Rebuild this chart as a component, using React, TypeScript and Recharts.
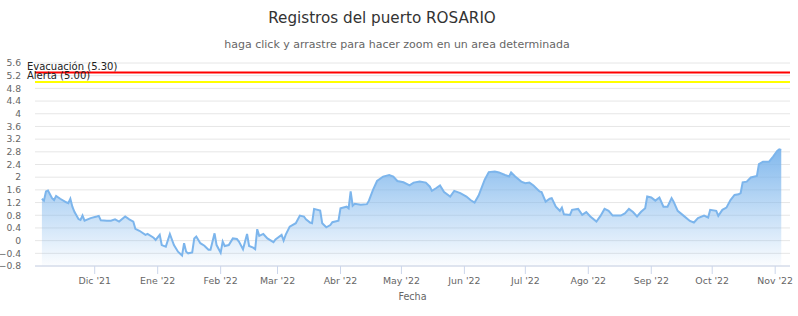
import React from 'react';
import { ComposedChart, Area, XAxis, YAxis, CartesianGrid, ReferenceLine } from 'recharts';

const FONT = '"DejaVu Sans", Verdana, sans-serif';
const DAY = 24 * 3600 * 1000;

const fechas = [
  '2021-11-05', '2021-11-06', '2021-11-07', '2021-11-08', '2021-11-10', '2021-11-11', '2021-11-12', '2021-11-14',
  '2021-11-17', '2021-11-18', '2021-11-19', '2021-11-20', '2021-11-21', '2021-11-23', '2021-11-24', '2021-11-25',
  '2021-11-26', '2021-11-29',
  '2021-12-02', '2021-12-03', '2021-12-04', '2021-12-07', '2021-12-09', '2021-12-11', '2021-12-13', '2021-12-16',
  '2021-12-18', '2021-12-20', '2021-12-21', '2021-12-23', '2021-12-26', '2021-12-27', '2021-12-30', '2021-12-31',
  '2022-01-02', '2022-01-03', '2022-01-05', '2022-01-07', '2022-01-09', '2022-01-11', '2022-01-13', '2022-01-14',
  '2022-01-15', '2022-01-16', '2022-01-18', '2022-01-19', '2022-01-20', '2022-01-22', '2022-01-24', '2022-01-26',
  '2022-01-27', '2022-01-29', '2022-01-30',
  '2022-02-01', '2022-02-02', '2022-02-03', '2022-02-05', '2022-02-07', '2022-02-09', '2022-02-10', '2022-02-12',
  '2022-02-14', '2022-02-15', '2022-02-17', '2022-02-18', '2022-02-19', '2022-02-20', '2022-02-22', '2022-02-24',
  '2022-02-27', '2022-02-28',
  '2022-03-03', '2022-03-04', '2022-03-05', '2022-03-07', '2022-03-10', '2022-03-12', '2022-03-14', '2022-03-15',
  '2022-03-17', '2022-03-18', '2022-03-19', '2022-03-22', '2022-03-23', '2022-03-25', '2022-03-27', '2022-03-28',
  '2022-03-31',
  '2022-04-01', '2022-04-04', '2022-04-05', '2022-04-06', '2022-04-07', '2022-04-08', '2022-04-11', '2022-04-14',
  '2022-04-15', '2022-04-17', '2022-04-19', '2022-04-22', '2022-04-25', '2022-04-27', '2022-04-29',
  '2022-05-02', '2022-05-05', '2022-05-07', '2022-05-10', '2022-05-13', '2022-05-15', '2022-05-16', '2022-05-18',
  '2022-05-20', '2022-05-22', '2022-05-25', '2022-05-27', '2022-05-30',
  '2022-06-02', '2022-06-04', '2022-06-06', '2022-06-08', '2022-06-11', '2022-06-13', '2022-06-16', '2022-06-18',
  '2022-06-21', '2022-06-23', '2022-06-24', '2022-06-26', '2022-06-29',
  '2022-07-01', '2022-07-03', '2022-07-05', '2022-07-08', '2022-07-09', '2022-07-11', '2022-07-13', '2022-07-14',
  '2022-07-16', '2022-07-18', '2022-07-19', '2022-07-20', '2022-07-23', '2022-07-24', '2022-07-27', '2022-07-29',
  '2022-07-31',
  '2022-08-02', '2022-08-05', '2022-08-07', '2022-08-09', '2022-08-11', '2022-08-13', '2022-08-17', '2022-08-19',
  '2022-08-21', '2022-08-23', '2022-08-25', '2022-08-27', '2022-08-29', '2022-08-30',
  '2022-09-01', '2022-09-03', '2022-09-05', '2022-09-07', '2022-09-09', '2022-09-11', '2022-09-12', '2022-09-14',
  '2022-09-17', '2022-09-20', '2022-09-22', '2022-09-24', '2022-09-27', '2022-09-29', '2022-09-30',
  '2022-10-03', '2022-10-04', '2022-10-06', '2022-10-08', '2022-10-10', '2022-10-12', '2022-10-14', '2022-10-15',
  '2022-10-16', '2022-10-18', '2022-10-20', '2022-10-23', '2022-10-24', '2022-10-26', '2022-10-29', '2022-10-31',
  '2022-11-02', '2022-11-03', '2022-11-04',
];

const alturas = [
  1.32, 1.26, 1.55, 1.58, 1.34, 1.28, 1.41, 1.32, 1.21, 1.18, 1.32, 1.07, 0.91, 0.68, 0.65, 0.79, 0.63, 0.71,
  0.76, 0.78, 0.64, 0.63, 0.63, 0.67, 0.6, 0.76, 0.67, 0.6, 0.37, 0.31, 0.18, 0.21, 0.09, 0.02,
  0.18, -0.14, -0.19, 0.21, -0.14, -0.35, -0.47, -0.08, -0.35, -0.4, -0.37, 0.07, 0.13, -0.08, -0.16, -0.29,
  -0.29, 0.23, -0.14,
  -0.38, -0.03, -0.17, -0.14, 0.07, 0.05, -0.03, -0.27, 0.21, -0.17, -0.22, -0.27, 0.36, 0.15, 0.21, 0.07,
  -0.05, 0.04,
  0.18, 0.0, 0.18, 0.44, 0.55, 0.79, 0.76, 0.67, 0.57, 0.55, 1.0, 0.95, 0.55, 0.42, 0.49, 0.58, 0.63,
  1.02, 1.07, 1.02, 1.55, 1.1, 1.16, 1.13, 1.15, 1.26, 1.6, 1.88, 2.02, 2.07, 2.02, 1.88,
  1.84, 1.74, 1.83, 1.86, 1.83, 1.7, 1.57, 1.65, 1.74, 1.53, 1.39, 1.57, 1.5,
  1.39, 1.28, 1.2, 1.42, 1.92, 2.16, 2.18, 2.15, 2.07, 2.02, 2.15, 2.02, 1.86,
  1.81, 1.83, 1.74, 1.55, 1.53, 1.23, 1.32, 1.34, 1.07, 0.94, 1.04, 0.83, 0.81, 0.97, 1.0, 0.81, 0.9,
  0.76, 0.6, 0.78, 1.0, 0.94, 0.79, 0.79, 0.86, 1.0, 0.9, 0.76, 0.91, 1.02, 1.39,
  1.36, 1.26, 1.36, 1.07, 1.07, 1.34, 1.23, 0.94, 0.78, 0.62, 0.57, 0.71, 0.79, 0.73, 0.97,
  0.94, 0.78, 0.97, 1.04, 1.28, 1.44, 1.46, 1.5, 1.84, 1.86, 1.99, 2.04, 2.41, 2.49, 2.49, 2.65,
  2.83, 2.88, 2.86,
];

const meses = [
  '2021-12-01', '2022-01-01', '2022-02-01', '2022-03-01', '2022-04-01', '2022-05-01',
  '2022-06-01', '2022-07-01', '2022-08-01', '2022-09-01', '2022-10-01', '2022-11-01',
];
const etiquetasMes = [
  "Dic '21", "Ene '22", "Feb '22", "Mar '22", "Abr '22", "May '22",
  "Jun '22", "Jul '22", "Ago '22", "Sep '22", "Oct '22", "Nov '22",
];

const yTicks = [-0.8, -0.4, 0, 0.4, 0.8, 1.2, 1.6, 2, 2.4, 2.8, 3.2, 3.6, 4, 4.4, 4.8, 5.2, 5.6];

const niveles = [
  { nombre: 'Evacuación', valor: 5.3, color: '#ff0000' },
  { nombre: 'Alerta', valor: 5.0, color: '#ffff00' },
];

const data = fechas.map((f, i) => ({ t: new Date(f).getTime(), v: alturas[i] }));
const tickTimes = meses.map((m) => new Date(m).getTime());
const labelFor: Record<number, string> = {};
tickTimes.forEach((t, i) => (labelFor[t] = etiquetasMes[i]));

const xMin = data[0].t - 3.4 * DAY;
const xMax = data[data.length - 1].t + 4.3 * DAY;

const fmtY = (v: number) => String(Math.round(v * 10) / 10).replace('-', '\u2212');

export default function App() {
  return (
    <div style={{ position: 'absolute', left: 0, top: 0, width: 798, height: 316, background: '#fff', fontFamily: FONT }}>
      <ComposedChart
        width={798}
        height={316}
        data={data}
        margin={{ top: 63, right: 8, bottom: 20, left: 0 }}
        style={{ fontFamily: FONT }}
      >
        <defs>
          <linearGradient id="fillNivel" x1="0" y1="0" x2="0" y2="1">
            <stop offset="0%" stopColor="#7cb5ec" stopOpacity={0.95} />
            <stop offset="100%" stopColor="#7cb5ec" stopOpacity={0.03} />
          </linearGradient>
        </defs>
        <CartesianGrid vertical={false} stroke="#e6e6e6" />
        <XAxis
          dataKey="t"
          type="number"
          scale="time"
          domain={[xMin, xMax]}
          ticks={tickTimes}
          tickFormatter={(t: number) => labelFor[t] ?? ''}
          height={30}
          axisLine={{ stroke: '#ccd6eb' }}
          tickLine={{ stroke: '#ccd6eb' }}
          tickSize={8}
          tickMargin={3}
          tick={{ fill: '#666', fontSize: 9.4 }}
          allowDataOverflow
        />
        <YAxis
          type="number"
          domain={[-0.8, 5.6]}
          ticks={yTicks}
          tickFormatter={fmtY}
          width={35}
          axisLine={false}
          tickLine={false}
          tickSize={6}
          tickMargin={8}
          tick={{ fill: '#666', fontSize: 9.2 }}
          interval={0}
          allowDataOverflow
        />
        {niveles.map((n) => (
          <ReferenceLine
            key={n.nombre}
            y={n.valor}
            stroke={n.color}
            strokeWidth={2}
            label={(p: any) => (
              <text
                x={p.viewBox.x - 8}
                y={p.viewBox.y - 3}
                fill="#222"
                fontSize={10}
                fontFamily={FONT}
              >
                {`${n.nombre} (${n.valor.toFixed(2)})`}
              </text>
            )}
          />
        ))}
        <Area
          type="linear"
          dataKey="v"
          stroke="#7cb5ec"
          strokeWidth={2}
          fill="url(#fillNivel)"
          fillOpacity={1}
          baseValue="dataMin"
          dot={false}
          activeDot={false}
          isAnimationActive={false}
        />
      </ComposedChart>
      <svg
        width={798}
        height={316}
        style={{ position: 'absolute', left: 0, top: 0, pointerEvents: 'none' }}
      >
        <text x={382} y={23} textAnchor="middle" fill="#333" fontSize={15.2} fontFamily={FONT}>
          Registros del puerto ROSARIO
        </text>
        <text x={397} y={48} textAnchor="middle" fill="#666" fontSize={11} fontFamily={FONT}>
          haga click y arrastre para hacer zoom en un area determinada
        </text>
        <text x={412.5} y={300} textAnchor="middle" fill="#666" fontSize={9.6} fontFamily={FONT}>
          Fecha
        </text>
      </svg>
    </div>
  );
}
